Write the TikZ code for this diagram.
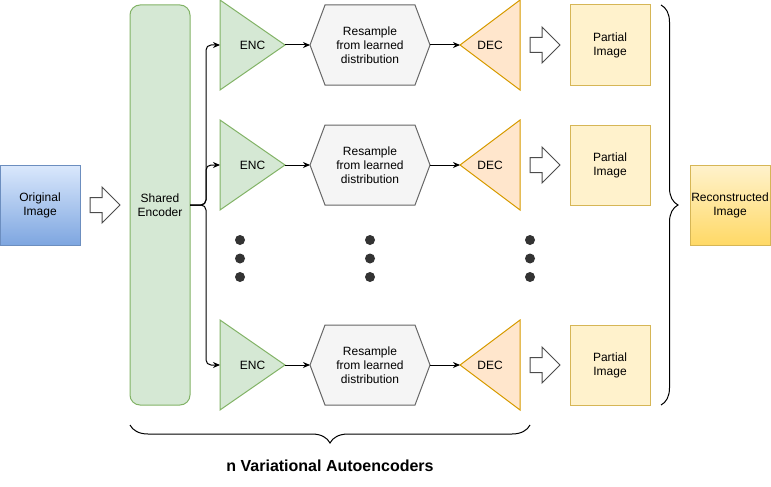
\documentclass[tikz,border=0pt]{standalone}
\usepackage{fontspec}
\setmainfont{Liberation Sans}
\usetikzlibrary{arrows.meta,backgrounds,decorations.pathreplacing}
\definecolor{origtop}{HTML}{DAE8FC}
\definecolor{origbot}{HTML}{7EA6E0}
\definecolor{origline}{HTML}{6C8EBF}
\definecolor{encfill}{HTML}{D5E8D4}
\definecolor{encline}{HTML}{82B366}
\definecolor{hexfill}{HTML}{F5F5F5}
\definecolor{hexline}{HTML}{666666}
\definecolor{decfill}{HTML}{FFE6CC}
\definecolor{decline}{HTML}{D79B00}
\definecolor{partfill}{HTML}{FFF2CC}
\definecolor{partline}{HTML}{D6B656}
\definecolor{recbot}{HTML}{FFD966}
\definecolor{dotc}{HTML}{333333}
\begin{document}
\begin{tikzpicture}[x=1pt,y=-1pt,
  every node/.style={font=\fontsize{12}{14}\selectfont, align=center, inner sep=0pt, outer sep=0pt},
  imgbox/.style={minimum width=80pt, minimum height=80pt, line width=1pt},
  encsty/.style={fill=encfill, draw=encline, line width=1pt},
  hexsty/.style={fill=hexfill, draw=hexline, line width=1pt},
  decsty/.style={fill=decfill, draw=decline, line width=1pt},
  lnk/.style={-{Stealth[length=7pt,width=6pt]}, line width=1pt},
  brc/.style={decorate, line width=1pt},
  fatarrow/.pic={
    \draw[fill=white, draw=black!70, line width=1pt] (-15,-7.5) -- (-3,-7.5) -- (-3,-18) -- (15,0)
      -- (-3,18) -- (-3,7.5) -- (-15,7.5) -- cycle;
  }
]
\useasboundingbox (0,0) rectangle (771,487);

% input and shared part
\node[imgbox, draw=origline, top color=origtop, bottom color=origbot] (orig) at (40,205) {Original\\Image};
\pic at (105,205) {fatarrow};
\node[draw=encline, fill=encfill, line width=1pt, rounded corners=10pt,
  minimum width=60pt, minimum height=400pt] (shared) at (160,205) {Shared\\Encoder};

% one row per autoencoder
\foreach \i/\y in {1/45,2/165,3/365}{
  \node[minimum width=65pt, minimum height=90pt] (enc\i) at (252.5,\y) {ENC};
  \node[minimum width=120pt, minimum height=80pt] (hex\i) at (370,\y) {Resample\\from learned\\distribution};
  \node[minimum width=60pt, minimum height=90pt] (dec\i) at (490,\y) {DEC};
  \node[imgbox, draw=partline, fill=partfill] (part\i) at (610,\y) {Partial\\Image};
  \begin{scope}[on background layer]
    \draw[encsty] (enc\i.north west) -- (enc\i.east) -- (enc\i.south west) -- cycle;
    \draw[hexsty] (hex\i.west) -- ([xshift=15pt]hex\i.north west) -- ([xshift=-15pt]hex\i.north east)
      -- (hex\i.east) -- ([xshift=-15pt]hex\i.south east) -- ([xshift=15pt]hex\i.south west) -- cycle;
    \draw[decsty] (dec\i.north east) -- (dec\i.west) -- (dec\i.south east) -- cycle;
  \end{scope}
  \pic at (545,\y) {fatarrow};
  \draw[lnk, rounded corners=5pt] (shared.east) -- ++(16,0) |- (enc\i.west);
  \draw[lnk] (enc\i.east) -- (hex\i.west);
  \draw[lnk] (hex\i.east) -- (dec\i.west);
}

% dots between rows
\foreach \x in {240,370,530}
  \foreach \yy in {240,258.5,277}
    \fill[dotc] (\x,\yy) circle (5pt);

% output
\draw[brc, decoration={brace, amplitude=17pt}] (661,5) -- (661,405);
\node[imgbox, draw=partline, top color=partfill, bottom color=recbot] (recon) at (730,205) {Reconstructed\\Image};

\draw[brc, decoration={brace, amplitude=18pt}] (530,425) -- (130,425);
\node[font=\fontsize{16}{18}\selectfont\bfseries] (title) at (330,466) {n Variational Autoencoders};
\end{tikzpicture}
\end{document}
